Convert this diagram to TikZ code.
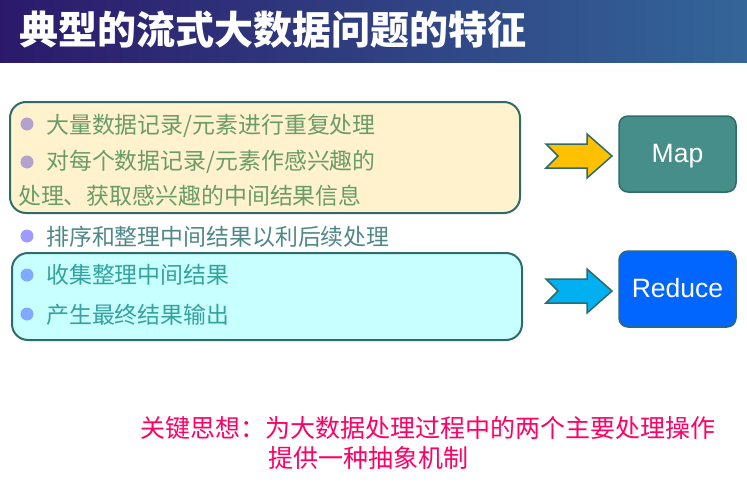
\documentclass[tikz,border=0pt]{standalone}
\usepackage{fontspec}
\setmainfont{Noto Sans CJK SC}
\newfontfamily\arialf{Liberation Sans}
\definecolor{titleL}{HTML}{2C196B}
\definecolor{titleR}{HTML}{336699}
\definecolor{boxA}{HTML}{FFF2CC}
\definecolor{boxB}{HTML}{C8FFFF}
\definecolor{edge}{HTML}{2F6B6A}
\definecolor{txtA}{HTML}{6A9C6A}
\definecolor{txtM}{HTML}{4F8888}
\definecolor{txtB}{HTML}{35A29E}
\definecolor{bulA}{HTML}{B3A2CC}
\definecolor{bulM}{HTML}{A09CFF}
\definecolor{bulB}{HTML}{7FAAFF}
\definecolor{mapc}{HTML}{468E8A}
\definecolor{redc}{HTML}{0066FF}
\definecolor{arY}{HTML}{FFC000}
\definecolor{arC}{HTML}{00B0F0}
\definecolor{keyc}{HTML}{FF0066}
\begin{document}
\begin{tikzpicture}[x=1pt,y=-1pt,
  panel/.style={draw=edge, line width=2pt, rounded corners=16pt, inner sep=0pt},
  line/.style={anchor=base west, inner sep=0pt, font=\fontsize{22.9}{24}\selectfont},
  bul/.style={circle, inner sep=0pt, minimum size=13pt},
  opbox/.style={draw=edge, line width=1.5pt, rounded corners=9pt, minimum width=117pt, minimum height=76pt, text=white, font=\arialf\fontsize{26.5}{28}\selectfont, text height=19pt, text depth=3pt},
  blockarrow/.style={draw=edge, line width=1.5pt, line join=miter},
  keytxt/.style={anchor=base west, inner sep=0pt, text=keyc, font=\fontsize{25}{27}\selectfont}]
\useasboundingbox (0,0) rectangle (747,482);
\fill[white] (0,0) rectangle (747,482);
\shade[left color=titleL, right color=titleR] (0,0) rectangle (747,62);
\node[anchor=base west, inner sep=0pt, text=white, font=\fontsize{39}{41}\selectfont\bfseries] (title) at (19,44) {典型的流式大数据问题的特征};

% panels
\node[panel, fill=boxA, minimum width=510pt, minimum height=111pt] (boxA) at (265,157.5) {};
\node[panel, fill=boxB, minimum width=510pt, minimum height=87pt] (boxB) at (267,296.5) {};

% map panel text
\node[bul, fill=bulA] (b1) at (27,124) {};
\node[line, text=txtA] (t1) at (46,133) {大量数据记录/元素进行重复处理};
\node[bul, fill=bulA] (b2) at (27,162) {};
\node[line, text=txtA] (t2) at (46,169.5) {对每个数据记录/元素作感兴趣的};
\node[line, text=txtA] (t3) at (18,204) {处理、获取感兴趣的中间结果信息};

% middle line
\node[bul, fill=bulM] (b4) at (27,236) {};
\node[line, text=txtM] (t4) at (46,245) {排序和整理中间结果以利后续处理};

% reduce panel text
\node[bul, fill=bulB] (b5) at (27,275) {};
\node[line, text=txtB] (t5) at (46,283.5) {收集整理中间结果};
\node[bul, fill=bulB] (b6) at (27,314) {};
\node[line, text=txtB] (t6) at (46,323) {产生最终结果输出};

% operation boxes
\node[opbox, fill=mapc] (map) at (677.5,154) {Map};
\node[opbox, fill=redc] (reduce) at (677.5,289) {Reduce};

% block arrows
\draw[blockarrow, fill=arY] (546,144) -- (558,156) -- (546,168) -- (587,168) -- (587,178) -- (612,156) -- (587,134) -- (587,144) -- cycle;
\draw[blockarrow, fill=arC] (546,279) -- (558,291) -- (546,303) -- (587,303) -- (587,313) -- (612,291) -- (587,269) -- (587,279) -- cycle;

% key idea
\node[keytxt] (k1) at (140,437) {关键思想：为大数据处理过程中的两个主要处理操作};
\node[keytxt] (k2) at (268,467) {提供一种抽象机制};
\end{tikzpicture}
\end{document}
